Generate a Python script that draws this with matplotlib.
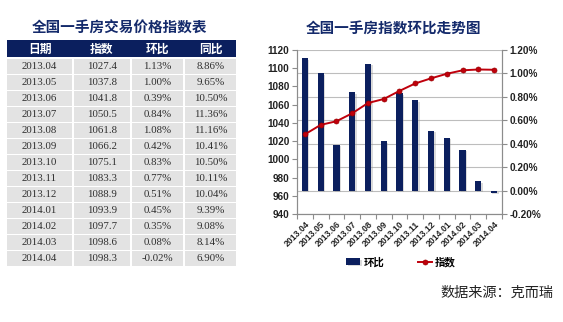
import matplotlib
matplotlib.use("Agg")
import matplotlib.pyplot as plt
import matplotlib.patheffects as pe
from matplotlib.patches import Rectangle
from matplotlib.ticker import FuncFormatter, MultipleLocator, FixedLocator

plt.rcParams['font.family'] = ['Liberation Sans', 'Noto Sans CJK SC', 'DejaVu Sans']

# ---------------- data ----------------
months = ["2013.04", "2013.05", "2013.06", "2013.07", "2013.08", "2013.09", "2013.10",
          "2013.11", "2013.12", "2014.01", "2014.02", "2014.03", "2014.04"]
index_vals = [1027.4, 1037.8, 1041.8, 1050.5, 1061.8, 1066.2, 1075.1,
              1083.3, 1088.9, 1093.9, 1097.7, 1098.6, 1098.3]
mom = [1.13, 1.00, 0.39, 0.84, 1.08, 0.42, 0.83, 0.77, 0.51, 0.45, 0.35, 0.08, -0.02]
yoy = [8.86, 9.65, 10.50, 11.36, 11.16, 10.41, 10.50, 10.11, 10.04, 9.39, 9.08, 8.14, 6.90]
table_headers = ["日期", "指数", "环比", "同比"]
table_title = "全国一手房交易价格指数表"
chart_title = "全国一手房指数环比走势图"
legend_labels = ["环比", "指数"]
source_text = "数据来源：克而瑞"

W, H = 563, 322
NAVY = "#0b1f5e"
RED = "#c0000c"
CJK = ['Noto Sans CJK SC', 'DejaVu Sans']

fig = plt.figure(figsize=(W / 100, H / 100), dpi=100)
fig.patch.set_facecolor("white")

# overlay axes in pixel coordinates for table and texts
ov = fig.add_axes([0, 0, 1, 1])
ov.set_xlim(0, W)
ov.set_ylim(H, 0)
ov.axis("off")
ov.patch.set_visible(False)

# ---------------- table ----------------
ov.text(120, 28, table_title, ha="center", va="center", fontsize=10.5,
        fontweight="bold", color="#142a6b", family=CJK)
ov.add_patch(Rectangle((7, 40), 229, 17, facecolor=NAVY, edgecolor="none"))
col_edges = [(7, 72), (74, 130), (132, 183), (185, 236)]
for (x0, x1), h in zip(col_edges, table_headers):
    ov.text((x0 + x1) / 2, 49, h, ha="center", va="center", fontsize=8.5,
            fontweight="bold", color="white", family=CJK)
row_top0, row_step, row_h = 59, 16, 14.5
for i in range(len(months)):
    y0 = row_top0 + i * row_step
    cells = [months[i], f"{index_vals[i]:.1f}", f"{mom[i]:.2f}%", f"{yoy[i]:.2f}%"]
    for (x0, x1), txt in zip(col_edges, cells):
        ov.add_patch(Rectangle((x0, y0), x1 - x0, row_h, facecolor="#e3e3e3", edgecolor="none"))
        ov.text((x0 + x1) / 2, y0 + row_h / 2 + 0.5, txt, ha="center", va="center",
                fontsize=7.8, color="#2e2e2e", family="Liberation Serif")

# ---------------- chart ----------------
ov.text(394, 28, chart_title, ha="center", va="center", fontsize=10.5,
        fontweight="bold", color="#142a6b", family=CJK)

left, right, top, bottom = 297, 502, 50, 214
ax = fig.add_axes([left / W, 1 - bottom / H, (right - left) / W, (bottom - top) / H])
ax.patch.set_visible(False)
x = list(range(len(months)))
bars = ax.bar(x, mom, width=0.4, color=NAVY, zorder=3)
for b in bars:
    b.set_path_effects([pe.SimplePatchShadow(offset=(1.0, -1.0), shadow_rgbFace="#999999", alpha=0.35),
                        pe.Normal()])
ax.set_ylim(-0.2, 1.2)
ax.yaxis.set_major_locator(MultipleLocator(0.2))
ax.yaxis.set_major_formatter(FuncFormatter(lambda v, p: f"{v:.2f}%"))
ax.set_xlim(-0.5, len(months) - 0.5)
ax.grid(axis="y", color="#bdbdbd", linewidth=0.8, zorder=0)
ax.set_axisbelow(True)

ax2 = ax.twinx()
ax.yaxis.tick_right()
ax2.yaxis.tick_left()
ax2.plot(x, index_vals, color=RED, linewidth=1.4, marker="o", markersize=3.6,
         markerfacecolor=RED, markeredgecolor="#9a0000", markeredgewidth=0.5, zorder=5)
ax2.set_ylim(940, 1120)
ax2.yaxis.set_major_locator(MultipleLocator(20))

for a in (ax, ax2):
    for s in a.spines.values():
        s.set_color("#8c8c8c")
        s.set_linewidth(0.8)
    a.spines["top"].set_visible(False)
    a.tick_params(axis="y", length=3.5, width=0.8, color="#8c8c8c", pad=2,
                  labelsize=7.2, labelcolor="#222222")
    for lab in a.get_yticklabels():
        lab.set_fontweight("bold")

ax.set_xticks(x)
ax.set_xticklabels(months, rotation=45, ha="right", rotation_mode="anchor",
                   fontsize=6.3, fontweight="bold", color="#222222")
ax.tick_params(axis="x", length=0, pad=4)
ax.xaxis.set_minor_locator(FixedLocator([i - 0.5 for i in range(len(months) + 1)]))
ax.tick_params(axis="x", which="minor", length=3.5, color="#8c8c8c", width=0.8)
ax2.tick_params(axis="x", which="both", length=0)

# legend
leg = ax.legend([bars, ax2.get_lines()[0]], legend_labels, loc="center",
                bbox_to_anchor=(401 / W, 1 - 262 / H), bbox_transform=fig.transFigure,
                ncol=2, frameon=False, handlelength=1.35, handleheight=0.6,
                columnspacing=3.2, handletextpad=0.3,
                prop={"family": CJK, "weight": "bold", "size": 7.5})

# source
ov.text(440, 293, source_text, ha="left", va="center", fontsize=10.2,
        color="#222222", family=CJK)

fig.savefig("out.png", dpi=100)
